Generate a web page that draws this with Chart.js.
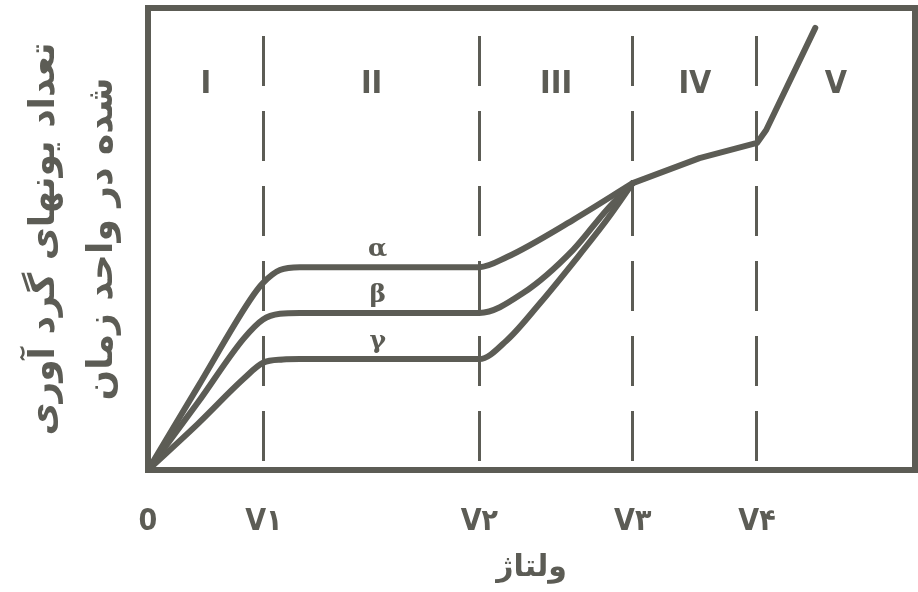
<!DOCTYPE html>
<html>
<head>
<meta charset="utf-8">
<script src="https://cdn.jsdelivr.net/npm/chart.js@4.4.1/dist/chart.umd.min.js"></script>
<style>
  html, body { margin: 0; padding: 0; background: #fff; }
  #wrap { width: 918px; height: 592px; }
</style>
</head>
<body>
<div id="wrap"><canvas id="c"></canvas></div>
<script>
/* ── Data (axis units: voltage 0..100, count 0..100) ─────── */
const tickValues = [0, 15.1, 43.2, 63.2, 79.4];
const tickLabels = ['0', 'V۱', 'V۲', 'V۳', 'V۴'];
const regionLabels = ['I', 'II', 'III', 'IV', 'V'];
const greekLabels = ['α', 'β', 'γ'];

const alphaX = [0, 6.5, 13.3, 15.0, 17.2, 19.8, 43.2, 46.8, 55.4, 63.2];
const alphaY = [0, 18.0, 36.8, 40.5, 43.3, 43.9, 43.9, 46.1, 54.1, 62.1];

const betaX = [0, 6.5, 12.5, 15.0, 17.2, 19.8, 43.2, 48.9, 55.4, 59.8, 63.2];
const betaY = [0, 14.6, 28.5, 32.6, 33.8, 34.0, 34.0, 38.3, 47.6, 56.3, 62.1];

const gammaX = [0, 6.5, 12.5, 15.0, 17.6, 19.8, 43.2, 46.8, 51.1, 55.4, 59.8, 63.2];
const gammaY = [0, 10.0, 19.8, 23.2, 23.9, 24.0, 24.0, 28.1, 36.1, 44.8, 54.1, 62.1];

const tailX = [63.2, 71.9, 79.4, 80.6, 87.0];
const tailY = [62.1, 67.5, 70.8, 73.6, 95.7];

const plateauY = [43.9, 34.0, 24.0];

/* ── Helpers ─────────────────────────────────────────────── */
const INK = '#5c5c55';
const pts = (xs, ys) => xs.map((x, i) => ({ x, y: ys[i] }));

function curve(label, data, smooth) {
  return {
    label, data,
    borderColor: INK, borderWidth: 6,
    pointRadius: 0, fill: false,
    cubicInterpolationMode: smooth ? 'monotone' : 'default',
    tension: 0,
    borderCapStyle: 'round', borderJoinStyle: 'round'
  };
}

/* frame + region numerals + greek labels */
const decor = {
  id: 'decor',
  afterDatasetsDraw(chart) {
    const { ctx, chartArea: a, scales: { x, y } } = chart;
    ctx.save();
    ctx.strokeStyle = INK;
    ctx.lineWidth = 6;
    ctx.strokeRect(a.left, a.top, a.right - a.left, a.bottom - a.top);

    ctx.fillStyle = INK;
    ctx.textAlign = 'center';
    ctx.textBaseline = 'middle';
    ctx.font = 'bold 32px "DejaVu Sans Condensed", "DejaVu Sans", sans-serif';
    const bounds = tickValues.concat([x.max]);
    regionLabels.forEach((t, i) => {
      const px = (x.getPixelForValue(bounds[i]) + x.getPixelForValue(bounds[i + 1])) / 2;
      ctx.fillText(t, px, y.getPixelForValue(83.3));
    });

    ctx.font = 'bold 25px "DejaVu Serif", serif';
    const mid = (tickValues[1] + tickValues[2]) / 2 + 0.8;
    greekLabels.forEach((t, i) => {
      ctx.fillText(t, x.getPixelForValue(mid), y.getPixelForValue(plateauY[i] + 3.8));
    });
    ctx.restore();
  }
};

new Chart(document.getElementById('c'), {
  type: 'line',
  data: {
    datasets: [
      curve('α', pts(alphaX, alphaY), true),
      curve('β', pts(betaX, betaY), true),
      curve('γ', pts(gammaX, gammaY), true),
      curve('tail', pts(tailX, tailY), false)
    ]
  },
  options: {
    responsive: true, maintainAspectRatio: false, animation: false,
    layout: { padding: { top: 8, right: 3, left: 0, bottom: 0 } },
    plugins: { legend: { display: false }, tooltip: { enabled: false } },
    scales: {
      x: {
        type: 'linear', min: 0, max: 100,
        afterBuildTicks: s => { s.ticks = tickValues.map(v => ({ value: v })); },
        afterFit: s => { s.height = 122; },
        ticks: {
          autoSkip: false, maxRotation: 0, padding: 34, color: INK,
          font: { family: '"DejaVu Sans Condensed", "DejaVu Sans"', size: 30, weight: 'bold' },
          callback: (v, i) => tickLabels[i]
        },
        grid: {
          drawTicks: false, lineWidth: 3,
          color: c => c.index === 0 ? 'rgba(0,0,0,0)' : INK
        },
        border: { display: false, dash: [50, 25], dashOffset: -28 },
        title: {
          display: true, text: 'ولتاژ', color: INK,
          font: { family: '"DejaVu Sans"', size: 30, weight: 'bold' },
          padding: { top: 4, bottom: 6 }
        }
      },
      y: {
        min: 0, max: 100,
        afterFit: s => { s.width = 148; },
        ticks: { display: false },
        grid: { display: false },
        border: { display: false },
        title: {
          display: true, color: INK,
          text: ['تعداد یونهای گرد آوری', 'شده در واحد زمان'],
          font: { family: '"DejaVu Sans"', size: 36, weight: 'bold', lineHeight: 1.6 },
          padding: { top: 16, bottom: 0 }
        }
      }
    }
  },
  plugins: [decor]
});
</script>
</body>
</html>
